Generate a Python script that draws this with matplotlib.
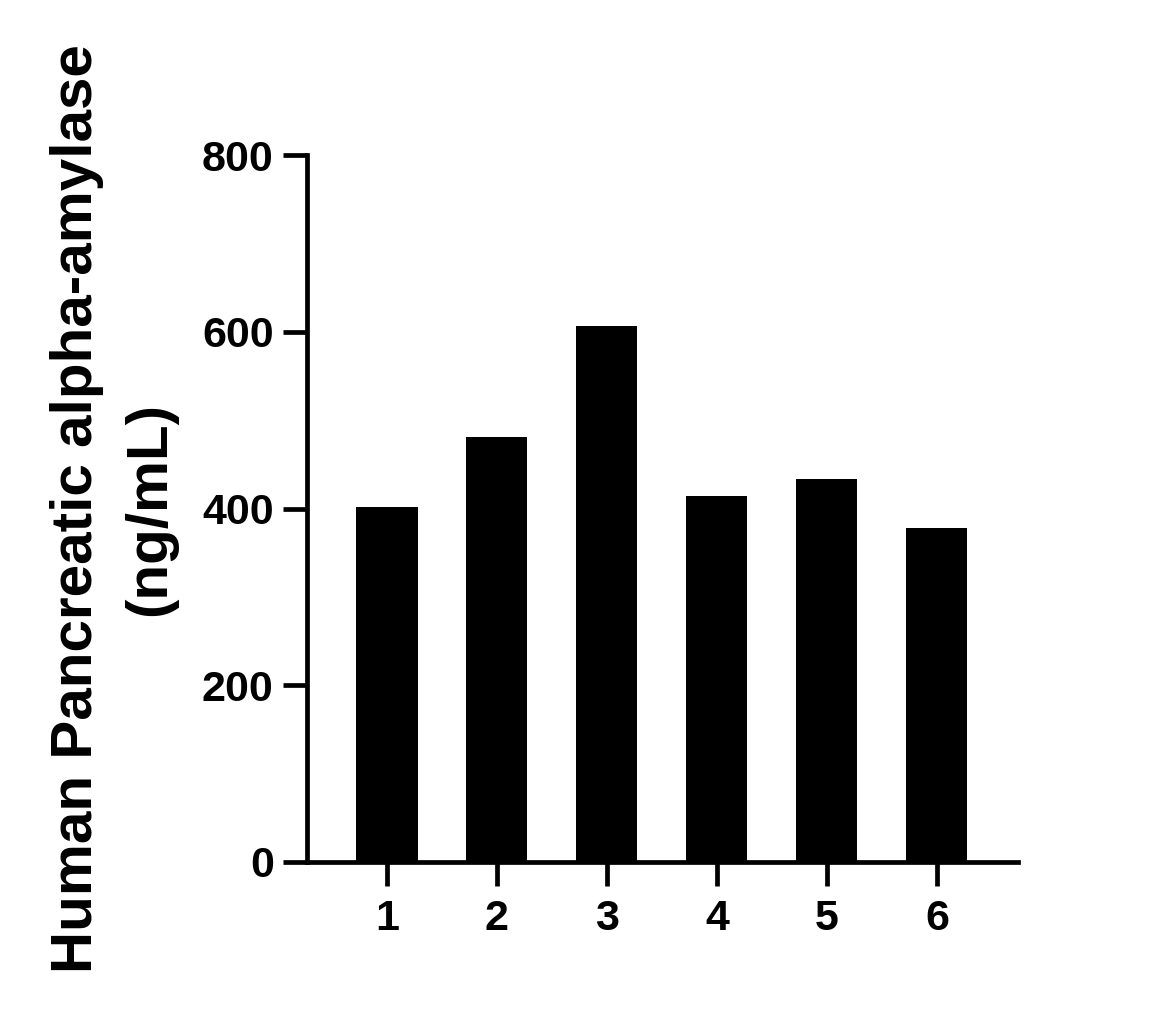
import matplotlib
matplotlib.use("Agg")
from matplotlib import pyplot as plt

samples = ["1", "2", "3", "4", "5", "6"]
values = [402, 481, 607, 414, 433, 378]
yticks = [0, 200, 400, 600, 800]

plt.rcParams['font.family'] = ['Liberation Sans', 'DejaVu Sans']
plt.rcParams['font.weight'] = 'bold'

fig = plt.figure(figsize=(11.5, 10.16), dpi=100)
ax = fig.add_axes([0.267, 0.1516, 0.618, 0.6958])

pos = list(range(1, len(samples) + 1))
ax.bar(pos, values, width=0.555, color='black')

ax.set_xlim(0.273, 6.736)
ax.set_ylim(0, 800)
ax.set_xticks(pos)
ax.set_xticklabels(samples)
ax.set_yticks(yticks)

for s in ['top', 'right']:
    ax.spines[s].set_visible(False)
for s in ['left', 'bottom']:
    ax.spines[s].set_linewidth(3.4)

ax.tick_params(axis='both', length=17, width=3.4, labelsize=31)
ax.tick_params(axis='y', pad=7)
ax.tick_params(axis='x', pad=10)
for lab in ax.get_xticklabels() + ax.get_yticklabels():
    lab.set_fontweight('bold')

ax.set_ylabel('Human Pancreatic alpha-amylase\n(ng/mL)', fontsize=42,
              fontweight='bold', labelpad=18, linespacing=1.45)

plt.savefig('out.png', dpi=100)
